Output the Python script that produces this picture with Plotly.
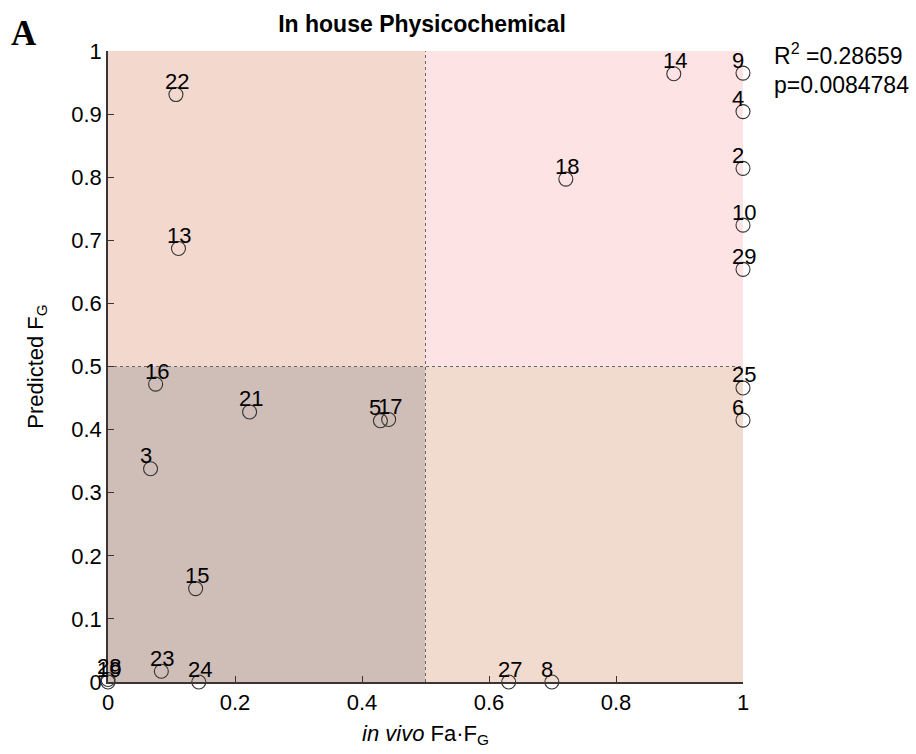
import plotly.graph_objects as go

# ---- data ----
labels = ["2", "3", "4", "5", "6", "8", "9", "10", "13", "14", "15", "16", "17", "18",
          "19", "21", "22", "23", "24", "25", "27", "28", "29"]
x_vals = [1.0, 0.067, 1.0, 0.429, 1.0, 0.699, 1.0, 1.0, 0.111, 0.891, 0.138, 0.075, 0.442, 0.721,
          0.0, 0.223, 0.107, 0.084, 0.143, 1.0, 0.631, 0.0, 1.0]
y_vals = [0.814, 0.338, 0.904, 0.414, 0.415, 0.0, 0.965, 0.724, 0.687, 0.964, 0.148, 0.472, 0.416, 0.797,
          0.0, 0.428, 0.931, 0.017, 0.0, 0.466, 0.0, 0.004, 0.654]
x_ticks = [0, 0.2, 0.4, 0.6, 0.8, 1]
x_tick_text = ["0", "0.2", "0.4", "0.6", "0.8", "1"]
y_ticks = [0, 0.1, 0.2, 0.3, 0.4, 0.5, 0.6, 0.7, 0.8, 0.9, 1]
y_tick_text = ["0", "0.1", "0.2", "0.3", "0.4", "0.5", "0.6", "0.7", "0.8", "0.9", "1"]
threshold = 0.5
r2_text = "R<sup>2</sup> =0.28659"
p_text = "p=0.0084784"

FONT = "Liberation Sans, Arial, sans-serif"
AXC = "#3c3434"

fig = go.Figure()

# quadrant backgrounds
quads = [
    (0, threshold, threshold, 1, "#f2d8cd"),   # top-left
    (threshold, 1, threshold, 1, "#fde3e3"),   # top-right
    (0, threshold, 0, threshold, "#cfbdb7"),   # bottom-left
    (threshold, 1, 0, threshold, "#f1dace"),   # bottom-right
]
for x0, x1, y0, y1, c in quads:
    fig.add_shape(type="rect", xref="x", yref="y", x0=x0, x1=x1, y0=y0, y1=y1,
                  fillcolor=c, line=dict(width=0), layer="below")

# dotted threshold lines
fig.add_shape(type="line", xref="x", yref="y", x0=threshold, x1=threshold, y0=0, y1=1,
              line=dict(color="#666666", width=1, dash="dot"), layer="below")
fig.add_shape(type="line", xref="x", yref="y", x0=0, x1=1, y0=threshold, y1=threshold,
              line=dict(color="#666666", width=1, dash="dot"), layer="below")

fig.add_trace(go.Scatter(
    x=x_vals, y=y_vals, mode="markers",
    marker=dict(symbol="circle-open", size=14, color="#333333", line=dict(width=1.1, color="#333333")),
    cliponaxis=False, showlegend=False, hoverinfo="skip"))

for lab, xv, yv in zip(labels, x_vals, y_vals):
    fig.add_annotation(x=xv, y=yv, text=lab, showarrow=False, xanchor="left", yanchor="middle",
                       xshift=-13, yshift=13, font=dict(family=FONT, size=22, color="#000000"))

fig.add_annotation(xref="paper", yref="paper", x=1.046, y=0.9945, text=r2_text, showarrow=False,
                   xanchor="left", yanchor="middle", font=dict(family=FONT, size=23, color="#000"))
fig.add_annotation(xref="paper", yref="paper", x=1.046, y=0.946, text=p_text, showarrow=False,
                   xanchor="left", yanchor="middle", font=dict(family=FONT, size=23, color="#000"))
fig.add_annotation(xref="paper", yref="paper", x=-0.156, y=1.0276, text="<b>A</b>", showarrow=False,
                   xanchor="left", yanchor="middle",
                   font=dict(family="Liberation Serif, Times New Roman, serif", size=35, color="#000"))

fig.update_layout(
    width=916, height=754,
    margin=dict(l=108, r=173, t=50.5, b=68.5),
    paper_bgcolor="white", plot_bgcolor="white",
    title=dict(text="<b>In house Physicochemical</b>", x=0.4607, xanchor="center", y=0.968, yanchor="middle",
               font=dict(family=FONT, size=23, color="#000")),
    xaxis=dict(range=[0, 1], tickvals=x_ticks, ticktext=x_tick_text, ticks="inside", ticklen=6,
               tickcolor=AXC, showline=True, linecolor=AXC, linewidth=1.5, showgrid=False, zeroline=False,
               tickfont=dict(family=FONT, size=22, color="#000"),
               title=dict(text="<i>in vivo</i> Fa·F<sub>G</sub>", standoff=11,
                          font=dict(family=FONT, size=22, color="#000"))),
    yaxis=dict(range=[0, 1], tickvals=y_ticks, ticktext=y_tick_text, ticks="inside", ticklen=6,
               tickcolor=AXC, showline=True, linecolor=AXC, linewidth=1.5, showgrid=False, zeroline=False,
               tickfont=dict(family=FONT, size=22, color="#000"),
               title=dict(text="Predicted F<sub>G</sub>", standoff=22,
                          font=dict(family=FONT, size=22, color="#000"))),
)

fig.write_html("out.html")
